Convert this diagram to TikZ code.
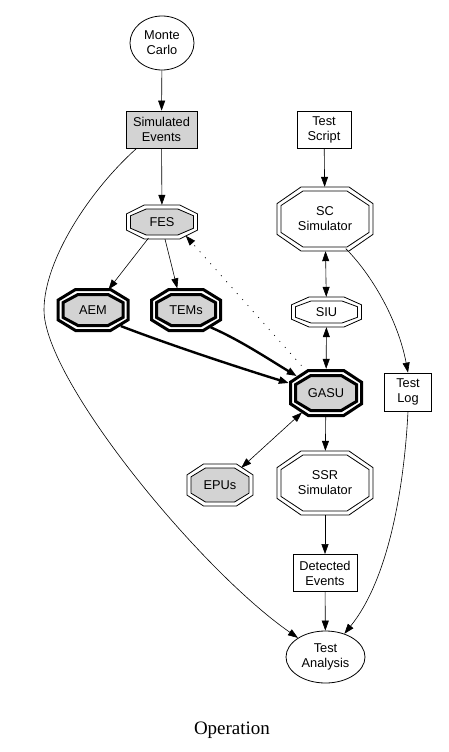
\documentclass[tikz,border=0pt]{standalone}
\usepackage{fontspec}
\setmainfont{Liberation Sans}
\newfontfamily\capfont{Liberation Serif}
\usetikzlibrary{arrows.meta,shapes.geometric,calc}
\definecolor{gfill}{RGB}{211,211,211}
% octagon: x y halfwidth halfheight options
\newcommand\octa[5]{%
  \draw[#5] ({#1+(#3)},{#2-0.48*(#4)}) -- ({#1+(#3)},{#2+0.48*(#4)})
    -- ({#1+0.5*(#3)},{#2+(#4)}) -- ({#1-0.5*(#3)},{#2+(#4)})
    -- ({#1-(#3)},{#2+0.48*(#4)}) -- ({#1-(#3)},{#2-0.48*(#4)})
    -- ({#1-0.5*(#3)},{#2-(#4)}) -- ({#1+0.5*(#3)},{#2-(#4)}) -- cycle;}
% double octagon: x y w h fill
\newcommand\dblocta[5]{%
  \octa{#1}{#2}{#3/2}{#4/2}{line width=0.8pt,fill=white}%
  \octa{#1}{#2}{#3/2-4}{#4/2-4}{line width=0.8pt,fill=#5}}
% triple (heavy) octagon: x y w h
\newcommand\trplocta[4]{%
  \octa{#1}{#2}{#3/2-1.5}{#4/2-1.5}{line width=3pt,fill=white}%
  \octa{#1}{#2}{#3/2-6.5}{#4/2-6.5}{line width=3pt,fill=gfill}}
\begin{document}
\begin{tikzpicture}[x=1pt,y=-1pt,
  lbl/.style={inner sep=0pt,align=center,font=\fontsize{12.8}{15}\selectfont},
  box/.style={lbl,draw,line width=0.8pt,rectangle},
  ell/.style={lbl,draw,line width=0.8pt,ellipse},
  oct/.style={lbl,ellipse},
  tip/.tip={Triangle[length=10pt,width=7pt]},
  arr/.style={-tip,line width=0.6pt},
  darr/.style={tip-tip,line width=0.6pt},
  harr/.style={-tip,line width=2.4pt},
  dotarr/.style={-tip,line width=0.7pt,dash pattern=on 1pt off 7pt}]
\useasboundingbox (0,0) rectangle (448,752);
\fill[white] (0,0) rectangle (448,752);

% nodes
\node[ell,minimum width=64pt,minimum height=54pt] (MC) at (162,43) {Monte\\Carlo};
\node[box,fill=gfill,minimum width=71pt,minimum height=37pt] (SE) at (161.5,129.5) {Simulated\\Events};
\node[box,minimum width=54pt,minimum height=37pt] (TS) at (324,129.5) {Test\\Script};

\dblocta{162}{222}{71}{34}{gfill}
\node[oct,minimum width=78pt,minimum height=34pt] (FES) at (162,222) {FES};

\trplocta{93}{310}{73}{44}
\node[oct,minimum width=80pt,minimum height=44pt] (AEM) at (93,310) {AEM};
\trplocta{186}{310}{72}{44}
\node[oct,minimum width=79pt,minimum height=44pt] (TEMs) at (186,310) {TEMs};

\dblocta{325}{219}{96}{64}{white}
\node[oct,minimum width=105pt,minimum height=64pt] (SC) at (325,219) {SC\\Simulator};
\dblocta{326.5}{312}{70}{30}{white}
\node[oct,minimum width=77pt,minimum height=30pt] (SIU) at (326.5,312) {SIU};
\trplocta{326}{393}{74}{48}
\node[oct,minimum width=81pt,minimum height=48pt] (GASU) at (326,393) {GASU};

\node[box,minimum width=47pt,minimum height=38pt] (TL) at (408,392) {Test\\Log};

\dblocta{220}{485}{66}{42}{gfill}
\node[oct,minimum width=73pt,minimum height=42pt] (EPUs) at (220,485) {EPUs};
\dblocta{325}{483}{96}{64}{white}
\node[oct,minimum width=105pt,minimum height=64pt] (SSR) at (325,483) {SSR\\Simulator};

\node[box,minimum width=64pt,minimum height=37pt] (DE) at (325,573) {Detected\\Events};
\node[ell,minimum width=79pt,minimum height=52pt] (TA) at (325.5,657) {Test\\Analysis};

\node[inner sep=0pt,font=\capfont\fontsize{19}{22}\selectfont] (cap) at (232,730) {Operation};

% edges
\draw[arr] (MC) -- (SE);
\draw[arr] (SE) -- (FES);
\draw[arr] (TS) -- (SC);
\draw[darr] (SC) -- (SIU);
\draw[darr] (SIU) -- (GASU);
\draw[arr] (GASU) -- (SSR);
\draw[arr] (SSR) -- (DE);
\draw[arr] (DE) -- (TA);
\draw[arr] (FES.-130) -- (AEM.53);
\draw[arr] (FES.-80) -- (TEMs.112);
\draw[harr] (AEM.-30) .. controls (170,345) and (240,368) .. (GASU.165);
\draw[harr] (TEMs.-35) .. controls (240,340) and (270,360) .. (GASU.150);
\draw[dotarr] (GASU.132) -- (FES.-30);
\draw[darr] (GASU.-141) -- (EPUs.39);
\draw[arr] (SC.-55) .. controls (372,275) and (398,320) .. (TL.north);
\draw[arr] (TL.south) .. controls (404,490) and (388,580) .. (TA);
\draw[arr] ($(SE.south west)+(11,0)$) .. controls (90,190) and (44,260) .. (44,310)
   .. controls (44,380) and (200,570) .. (TA);
\end{tikzpicture}
\end{document}
